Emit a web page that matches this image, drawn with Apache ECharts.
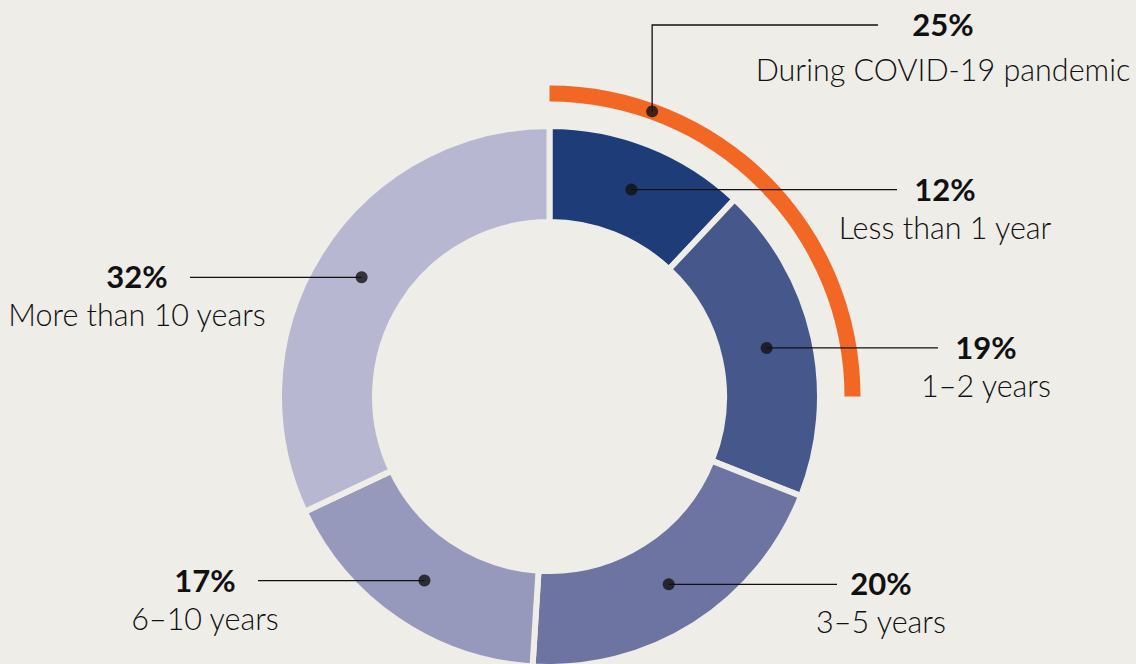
<!DOCTYPE html>
<html>
<head>
<meta charset="utf-8">
<script src="https://cdn.jsdelivr.net/npm/echarts@6/dist/echarts.min.js"></script>
<style>
  html, body { margin: 0; padding: 0; background: #eeede8; }
  #chart { width: 1136px; height: 664px; }
</style>
</head>
<body>
<div id="chart"></div>
<script>
// data
const categories = ["Less than 1 year", "1–2 years", "3–5 years", "6–10 years", "More than 10 years"];
const shares = [12, 19, 20, 17, 32];
const covidName = "During COVID-19 pandemic";
const covidShare = 25;

const sliceColors = ["#1d3c78", "#46578b", "#6d74a2", "#9799bc", "#b7b7d1"];
const covidColor = "#f26724";
const bg = "#eeede8";
const ink = "#111111";
const font = "Lato, 'Noto Sans', sans-serif";

// layout (pixels)
const cx = 549.5, cy = 396.5;
const ringInner = 177.5, ringOuter = 267.5, gap = 6;
const covidInner = 295, covidOuter = 311;
// where the text blocks sit and where their leader lines stop
const labelX = [945, 986, 881, 205, 137];
const lineEndX = [897, 938, 837, 258, 190];
const covidLabelX = 943, covidLineY = 25, covidLineEndX = 878;
const covidDotAt = 0.22; // fraction along the orange arc

const chart = echarts.init(document.getElementById("chart"), null, { renderer: "svg" });

// mid value of each slice on a 0..100 angle scale
const total = shares.reduce((a, b) => a + b, 0);
let acc = 0;
const mids = shares.map(v => {
  const m = ((acc + v / 2) / total) * 100;
  acc += v;
  return m;
});
const ringMid = (ringInner + ringOuter) / 2;
const covidMid = (covidInner + covidOuter) / 2;

const dotData = mids.map(m => [ringMid, m]);
dotData.push([covidMid, covidShare * covidDotAt]);

chart.setOption({
  backgroundColor: bg,
  animation: false,
  polar: { center: [cx, cy], radius: [0, covidOuter] },
  angleAxis: { type: "value", min: 0, max: 100, startAngle: 90, clockwise: true, show: false },
  radiusAxis: { type: "value", min: 0, max: covidOuter, show: false },
  series: [
    {
      type: "pie",
      center: [cx, cy],
      radius: [ringInner - gap / 2, ringOuter + gap / 2],
      startAngle: 90,
      clockwise: true,
      silent: true,
      label: { show: false },
      labelLine: { show: false },
      itemStyle: { borderColor: bg, borderWidth: gap },
      data: categories.map((name, i) => ({
        name,
        value: shares[i],
        itemStyle: { color: sliceColors[i] }
      })),
      z: 2
    },
    {
      type: "pie",
      center: [cx, cy],
      radius: [covidInner, covidOuter],
      startAngle: 90,
      clockwise: true,
      silent: true,
      label: { show: false },
      labelLine: { show: false },
      data: [
        { name: covidName, value: covidShare, itemStyle: { color: covidColor } },
        { name: "", value: 100 - covidShare, itemStyle: { color: "transparent" } }
      ],
      z: 2
    },
    {
      type: "scatter",
      coordinateSystem: "polar",
      symbol: "circle",
      symbolSize: 12,
      itemStyle: { color: ink },
      silent: true,
      data: dotData,
      z: 10
    }
  ]
});

// leader lines and text blocks, anchored on the dots
const dots = dotData.map(d => chart.convertToPixel({ seriesIndex: 2 }, d));
const pctStyle = { font: "bold 31px " + font, fill: ink, textAlign: "center", textVerticalAlign: "middle" };
const nameStyle = { font: "300 30.5px " + font, fill: ink, textAlign: "center", textVerticalAlign: "middle" };
const graphics = [];

function addLabel(x, y, pct, name, nameDy) {
  graphics.push({ type: "text", x: x, y: y - 1, z: 6, style: Object.assign({ text: pct }, pctStyle) });
  graphics.push({ type: "text", x: x, y: y + nameDy, z: 6, style: Object.assign({ text: name }, nameStyle) });
}

categories.forEach((name, i) => {
  const p = dots[i];
  graphics.push({
    type: "polyline",
    z: 5,
    shape: { points: [[p[0], p[1]], [lineEndX[i], p[1]]] },
    style: { stroke: ink, lineWidth: 1.3, fill: null }
  });
  addLabel(labelX[i], p[1], shares[i] + "%", name, 37);
});

const cp = dots[dots.length - 1];
graphics.push({
  type: "polyline",
  z: 5,
  shape: { points: [[cp[0], cp[1]], [cp[0], covidLineY], [covidLineEndX, covidLineY]] },
  style: { stroke: ink, lineWidth: 1.3, fill: null }
});
addLabel(covidLabelX, covidLineY, covidShare + "%", covidName, 44);

chart.setOption({ graphic: graphics });

window.addEventListener("resize", () => chart.resize());
</script>
</body>
</html>
